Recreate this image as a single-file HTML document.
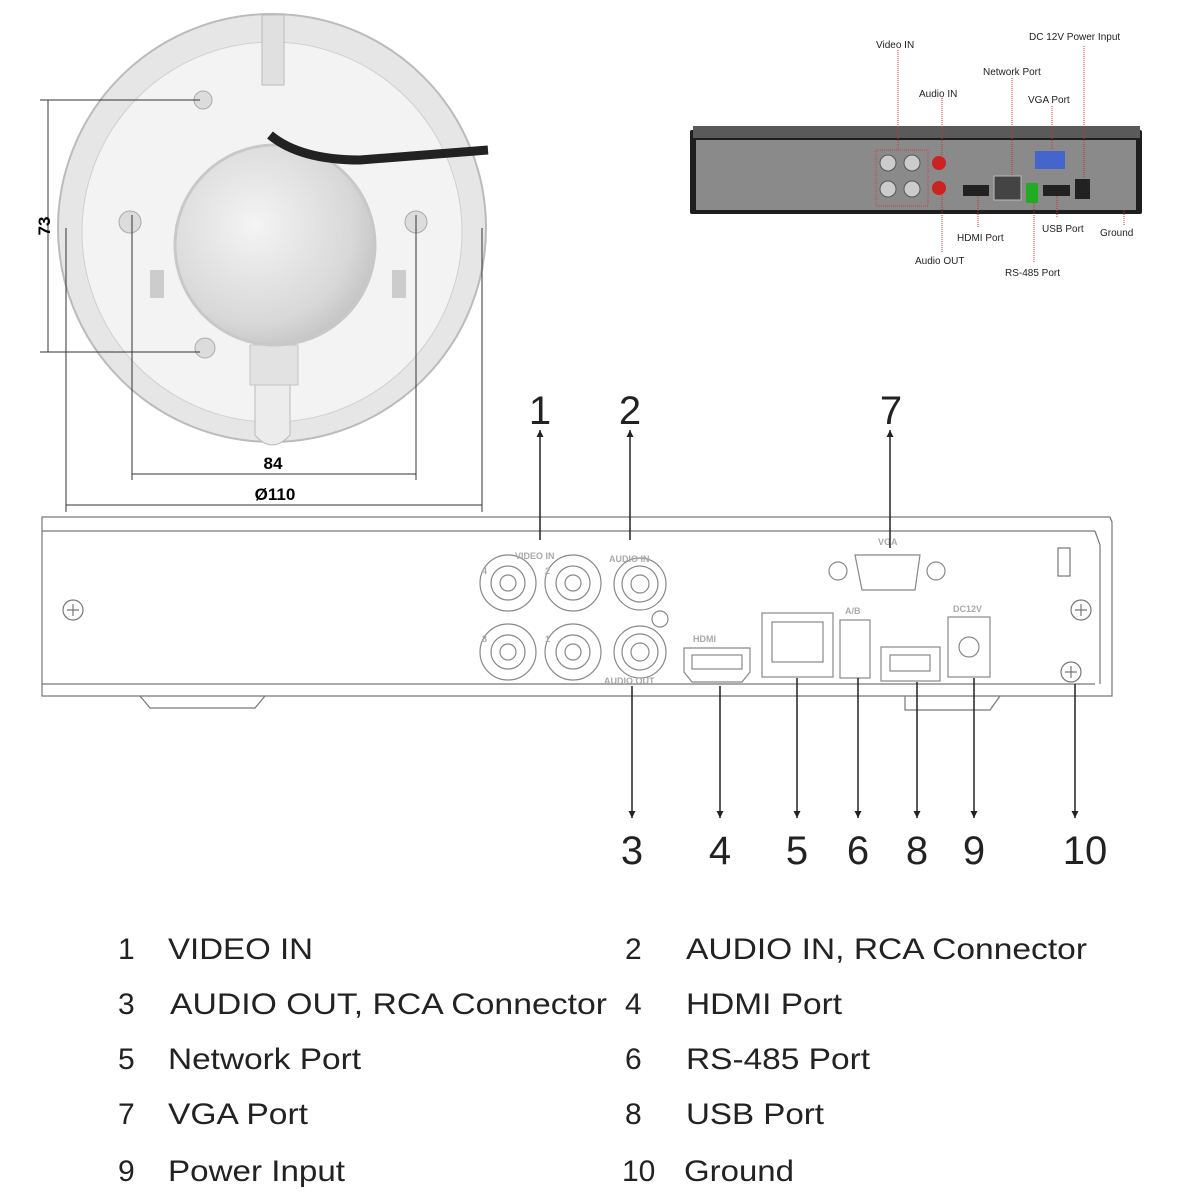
<!DOCTYPE html>
<html><head><meta charset="utf-8"><style>
html,body{margin:0;padding:0;background:#fff;}
svg{display:block;font-family:"Liberation Sans",sans-serif;}
</style></head><body>
<svg width="1200" height="1200" viewBox="0 0 1200 1200" xmlns="http://www.w3.org/2000/svg">
<defs>
<radialGradient id="hole" cx="0.4" cy="0.4" r="0.7">
<stop offset="0" stop-color="#f4f4f4"/><stop offset="0.7" stop-color="#d8d8d8"/><stop offset="1" stop-color="#bdbdbd"/>
</radialGradient>
<marker id="ar" viewBox="0 0 10 10" refX="10" refY="5" markerWidth="9" markerHeight="7" orient="auto" markerUnits="userSpaceOnUse">
<path d="M0,0 L10,5 L0,10 Z" fill="#222"/></marker>
</defs>

<!-- Camera base -->
<circle cx="272" cy="228" r="214" fill="#e6e6e6" stroke="#bbb" stroke-width="2"/>
<circle cx="272" cy="232" r="190" fill="#f3f3f3" stroke="#d0d0d0"/>
<path d="M255 380 L255 435 Q272 455 290 435 L290 380 Z" fill="#ececec" stroke="#bbb"/>
<rect x="250" y="345" width="48" height="40" fill="#e2e2e2" stroke="#c4c4c4"/>
<circle cx="275" cy="245" r="100" fill="url(#hole)" stroke="#c8c8c8" stroke-width="3"/>
<path d="M270 135 Q300 160 360 160 L488 150" stroke="#222" stroke-width="9" fill="none"/>
<g fill="#dcdcdc" stroke="#aaa">
<circle cx="203" cy="100" r="9"/><circle cx="130" cy="222" r="11"/><circle cx="416" cy="222" r="11"/><circle cx="205" cy="348" r="10"/>
</g>
<rect x="262" y="15" width="22" height="70" fill="#e0e0e0" stroke="#bbb"/>
<rect x="150" y="270" width="14" height="28" fill="#ccc"/><rect x="392" y="270" width="14" height="28" fill="#ccc"/>

<!-- dimensions -->
<g stroke="#333" stroke-width="1" fill="none">
<line x1="48" y1="100" x2="48" y2="352"/>
<line x1="40" y1="100" x2="200" y2="100"/><line x1="40" y1="352" x2="200" y2="352"/>
<line x1="132" y1="215" x2="132" y2="480"/><line x1="416" y1="215" x2="416" y2="480"/>
<line x1="132" y1="474" x2="416" y2="474"/>
<line x1="66" y1="228" x2="66" y2="512"/><line x1="482" y1="228" x2="482" y2="512"/>
<line x1="66" y1="505" x2="482" y2="505"/>
</g>
<text x="44" y="226" font-size="17" font-weight="bold" text-anchor="middle" transform="rotate(-90 44 226)" dy="6">73</text>
<text x="273" y="469" font-size="17" font-weight="bold" text-anchor="middle">84</text>
<text x="275" y="500" font-size="17" font-weight="bold" text-anchor="middle">Ø110</text>

<!-- Top-right photo -->
<rect x="690" y="130" width="452" height="84" fill="#1e1e1e" rx="2"/>
<rect x="693" y="126" width="447" height="12" fill="#5a5a5a"/>
<rect x="696" y="140" width="440" height="70" fill="#8a8a8a"/>
<rect x="876" y="150" width="52" height="56" fill="none" stroke="#c44" stroke-dasharray="1,1"/>
<g fill="#ccc" stroke="#555"><circle cx="888" cy="163" r="8"/><circle cx="912" cy="163" r="8"/><circle cx="888" cy="189" r="8"/><circle cx="912" cy="189" r="8"/></g>
<circle cx="939" cy="163" r="7" fill="#c22"/><circle cx="939" cy="188" r="7" fill="#c22"/>
<rect x="963" y="185" width="26" height="11" fill="#222"/>
<rect x="994" y="176" width="27" height="24" fill="#444" stroke="#bbb"/>
<rect x="1026" y="183" width="12" height="20" fill="#2a2"/>
<rect x="1043" y="185" width="27" height="11" fill="#222"/>
<rect x="1075" y="179" width="15" height="20" fill="#222"/>
<rect x="1035" y="151" width="30" height="18" fill="#46c"/>
<g stroke="#c33" stroke-width="1" stroke-dasharray="1,1">
<line x1="898" y1="50" x2="898" y2="150"/><line x1="942" y1="98" x2="942" y2="156"/>
<line x1="1012" y1="78" x2="1012" y2="176"/><line x1="1052" y1="106" x2="1052" y2="150"/>
<line x1="1084" y1="46" x2="1084" y2="178"/><line x1="942" y1="195" x2="942" y2="253"/>
<line x1="978" y1="196" x2="978" y2="228"/><line x1="1034" y1="203" x2="1034" y2="262"/>
<line x1="1057" y1="196" x2="1057" y2="218"/><line x1="1124" y1="210" x2="1124" y2="226"/>
</g>
<g font-size="10" fill="#222">
<text x="876" y="48">Video IN</text><text x="919" y="97">Audio IN</text>
<text x="983" y="75">Network Port</text><text x="1028" y="103">VGA Port</text>
<text x="1029" y="40">DC 12V Power Input</text>
<text x="957" y="241">HDMI Port</text><text x="915" y="264">Audio OUT</text>
<text x="1042" y="232">USB Port</text><text x="1100" y="236">Ground</text>
<text x="1005" y="276">RS-485 Port</text>
</g>

<!-- Main NVR drawing -->
<g stroke="#777" stroke-width="1.2" fill="none">
<path d="M42 517 L1110 517 L1112 522 L1112 696 L42 696 Z"/>
<line x1="42" y1="531" x2="1095" y2="531"/>
<line x1="42" y1="684" x2="1095" y2="684"/>
<path d="M1095 531 L1100 545 L1100 684"/>
<path d="M140 696 L150 708 L255 708 L265 696"/>
<path d="M905 696 L905 710 L990 710 L1000 696"/>
<circle cx="73" cy="610" r="10"/><path d="M67 610 H79 M73 604 V616"/>
<circle cx="1081" cy="610" r="10"/><path d="M1075 610 H1087 M1081 604 V616"/>
<circle cx="1071" cy="672" r="10"/><path d="M1065 672 H1077 M1071 666 V678"/>
<rect x="1058" y="548" width="12" height="28"/>
</g>
<g stroke="#888" stroke-width="1.2" fill="none">
<circle cx="508" cy="583" r="28"/><circle cx="508" cy="583" r="17"/><circle cx="508" cy="583" r="8"/>
<circle cx="573" cy="583" r="28"/><circle cx="573" cy="583" r="17"/><circle cx="573" cy="583" r="8"/>
<circle cx="508" cy="652" r="28"/><circle cx="508" cy="652" r="17"/><circle cx="508" cy="652" r="8"/>
<circle cx="573" cy="652" r="28"/><circle cx="573" cy="652" r="17"/><circle cx="573" cy="652" r="8"/>
<circle cx="640" cy="584" r="26"/><circle cx="640" cy="584" r="18"/><circle cx="640" cy="584" r="9"/>
<circle cx="640" cy="652" r="26"/><circle cx="640" cy="652" r="18"/><circle cx="640" cy="652" r="9"/>
<circle cx="660" cy="619" r="8"/>
<path d="M684 648 H750 V672 L742 682 H692 L684 672 Z"/><rect x="692" y="655" width="50" height="14"/>
<rect x="762" y="613" width="71" height="64"/><rect x="772" y="622" width="51" height="40"/>
<rect x="840" y="620" width="30" height="58"/>
<rect x="881" y="647" width="59" height="34"/><rect x="890" y="655" width="40" height="16"/>
<rect x="948" y="617" width="42" height="60"/><circle cx="969" cy="647" r="10"/>
<path d="M855 555 H920 L915 590 H862 Z"/>
<circle cx="838" cy="571" r="9"/><circle cx="936" cy="571" r="9"/>
</g>
<g font-size="9" font-weight="bold" fill="#aaa">
<text x="515" y="559">VIDEO IN</text><text x="609" y="562">AUDIO IN</text>
<text x="604" y="684">AUDIO OUT</text><text x="693" y="642">HDMI</text>
<text x="845" y="614">A/B</text><text x="953" y="612">DC12V</text><text x="878" y="545">VGA</text>
<text x="482" y="574">4</text><text x="545" y="574">2</text><text x="482" y="642">3</text><text x="545" y="642">1</text>
</g>

<!-- arrows -->
<g stroke="#222" stroke-width="1.5">
<line x1="540" y1="540" x2="540" y2="430" marker-end="url(#ar)"/>
<line x1="630" y1="540" x2="630" y2="430" marker-end="url(#ar)"/>
<line x1="890" y1="548" x2="890" y2="430" marker-end="url(#ar)"/>
<line x1="632" y1="686" x2="632" y2="818" marker-end="url(#ar)"/>
<line x1="720" y1="686" x2="720" y2="818" marker-end="url(#ar)"/>
<line x1="797" y1="678" x2="797" y2="818" marker-end="url(#ar)"/>
<line x1="858" y1="678" x2="858" y2="818" marker-end="url(#ar)"/>
<line x1="917" y1="682" x2="917" y2="818" marker-end="url(#ar)"/>
<line x1="974" y1="678" x2="974" y2="818" marker-end="url(#ar)"/>
<line x1="1075" y1="684" x2="1075" y2="818" marker-end="url(#ar)"/>
</g>
<g font-size="40" fill="#222" text-anchor="middle">
<text x="540" y="424">1</text><text x="630" y="424">2</text><text x="891" y="424">7</text>
<text x="632" y="864">3</text><text x="720" y="864">4</text><text x="797" y="864">5</text>
<text x="858" y="864">6</text><text x="917" y="864">8</text><text x="974" y="864">9</text>
<text x="1085" y="864">10</text>
</g>

<!-- legend -->
<g font-size="30" fill="#222">
<text x="118" y="959">1</text><text x="168" y="959" textLength="145" lengthAdjust="spacingAndGlyphs">VIDEO IN</text>
<text x="625" y="959">2</text><text x="686" y="959" textLength="401" lengthAdjust="spacingAndGlyphs">AUDIO IN, RCA Connector</text>
<text x="118" y="1014">3</text><text x="170" y="1014" textLength="437" lengthAdjust="spacingAndGlyphs">AUDIO OUT, RCA Connector</text>
<text x="625" y="1014">4</text><text x="686" y="1014" textLength="156" lengthAdjust="spacingAndGlyphs">HDMI Port</text>
<text x="118" y="1069">5</text><text x="168" y="1069" textLength="193" lengthAdjust="spacingAndGlyphs">Network Port</text>
<text x="625" y="1069">6</text><text x="686" y="1069" textLength="184" lengthAdjust="spacingAndGlyphs">RS-485 Port</text>
<text x="118" y="1124">7</text><text x="168" y="1124" textLength="140" lengthAdjust="spacingAndGlyphs">VGA Port</text>
<text x="625" y="1124">8</text><text x="686" y="1124" textLength="138" lengthAdjust="spacingAndGlyphs">USB Port</text>
<text x="118" y="1181">9</text><text x="168" y="1181" textLength="177" lengthAdjust="spacingAndGlyphs">Power Input</text>
<text x="622" y="1181">10</text><text x="684" y="1181" textLength="110" lengthAdjust="spacingAndGlyphs">Ground</text>
</g>
</svg>
</body></html>
